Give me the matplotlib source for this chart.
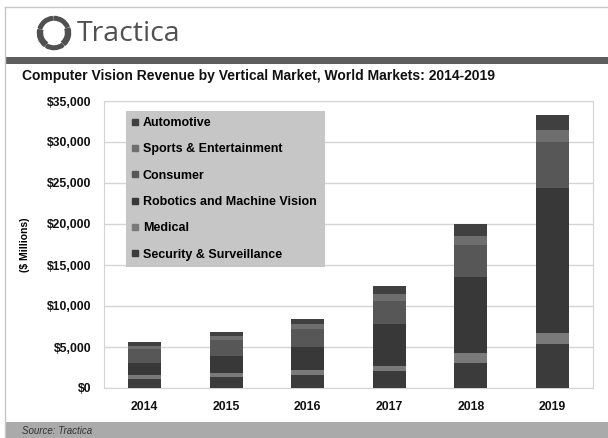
import matplotlib.pyplot as plt
import numpy as np
from matplotlib.lines import Line2D
from matplotlib.patches import Rectangle, Wedge

plt.rcParams['font.family'] = ['Liberation Sans', 'DejaVu Sans']

years = ['2014', '2015', '2016', '2017', '2018', '2019']
# stacked bottom -> top
security = [1100, 1310, 1630, 2040, 3060, 5385]
medical = [530, 530, 610, 700, 1220, 1350]
robotics = [1430, 2080, 2780, 5020, 9300, 17620]
consumer = [1710, 1900, 2200, 2850, 3800, 5630]
sports = [400, 490, 530, 820, 1100, 1420]
automotive = [450, 490, 700, 1020, 1470, 1920]

series_names = ['Security & Surveillance', 'Medical', 'Robotics and Machine Vision',
                'Consumer', 'Sports & Entertainment', 'Automotive']
series_vals = [security, medical, robotics, consumer, sports, automotive]
series_cols = ['#3b3b3b', '#7a7a7a', '#383838', '#575757', '#6e6e6e', '#404040']

y_ticks = [0, 5000, 10000, 15000, 20000, 25000, 30000, 35000]

W, H = 608, 438
fig = plt.figure(figsize=(W / 100, H / 100), dpi=100)


def fx(x):
    return x / W


def fy(y):
    return 1 - y / H


# outer frame lines
fig.add_artist(Line2D([fx(5), fx(608)], [fy(7), fy(7)], color='#c8c8c8', lw=1))
fig.add_artist(Line2D([fx(5), fx(5)], [fy(7), fy(438)], color='#c8c8c8', lw=1))

# header band + footer band
fig.add_artist(Rectangle((fx(5), fy(64)), fx(603), 7 / H, color='#5e5e5e', lw=0))
fig.add_artist(Rectangle((fx(5), 0), fx(603), 16 / H, color='#aaaaaa', lw=0))
fig.text(fx(22), fy(431), 'Source: Tractica', fontsize=7, style='italic',
         color='#333333', va='center')

# logo
lax = fig.add_axes([fx(36), fy(51), 36 / W, 36 / H])
lax.set_xlim(-1, 1)
lax.set_ylim(-1, 1)
lax.set_aspect('equal')
lax.axis('off')
for k in range(5):
    a0 = 90 + k * 72 + 6
    lax.add_patch(Wedge((0, 0), 0.92, a0, a0 + 66, width=0.2 + 0.08 * (k % 2),
                        color='#505050'))
fig.text(fx(77), fy(34), 'Tractica', fontsize=20.5, family=['Open Sans', 'DejaVu Sans'],
         color='#505050', va='center')

fig.text(fx(22), fy(76), 'Computer Vision Revenue by Vertical Market, World Markets: 2014-2019',
         fontsize=10, fontweight='bold', color='#111111', va='center')

# main chart
ax = fig.add_axes([fx(104), fy(388), (593 - 104) / W, (388 - 101) / H])
x = np.arange(len(years))
bottom = np.zeros(len(years))
for name, vals, col in zip(series_names, series_vals, series_cols):
    ax.bar(x, vals, 0.4, bottom=bottom, color=col, label=name, zorder=3)
    bottom += np.array(vals)

ax.set_xlim(-0.5, len(years) - 0.5)
ax.set_ylim(0, 35000)
ax.set_yticks(y_ticks)
ax.set_yticklabels(['${:,}'.format(v) for v in y_ticks])
ax.set_xticks(x)
ax.set_xticklabels(years)
ax.tick_params(length=0, labelsize=8.8, pad=9, colors='#111111')
for lab in ax.get_xticklabels() + ax.get_yticklabels():
    lab.set_fontweight('bold')
ax.grid(axis='y', color='#d4d4d4', lw=1, zorder=0)
for s in ax.spines.values():
    s.set_color('#d4d4d4')
ax.set_ylabel('($ Millions)', fontsize=7.5, fontweight='bold', labelpad=12)

handles = [Line2D([], [], marker='s', ls='none', markersize=4, color=c)
           for c in series_cols][::-1]
leg = ax.legend(handles, series_names[::-1], loc='lower left',
                bbox_to_anchor=(fx(126), fy(267), 199 / W, 10 / H),
                bbox_transform=fig.transFigure, mode='expand',
                facecolor='#c6c6c6', edgecolor='none', framealpha=1, fancybox=False,
                prop={'weight': 'bold', 'size': 9}, labelspacing=1.15,
                handlelength=0.4, handletextpad=0.45, borderpad=0.5, borderaxespad=0)
leg.set_zorder(5)

fig.savefig('out.png', dpi=100)
